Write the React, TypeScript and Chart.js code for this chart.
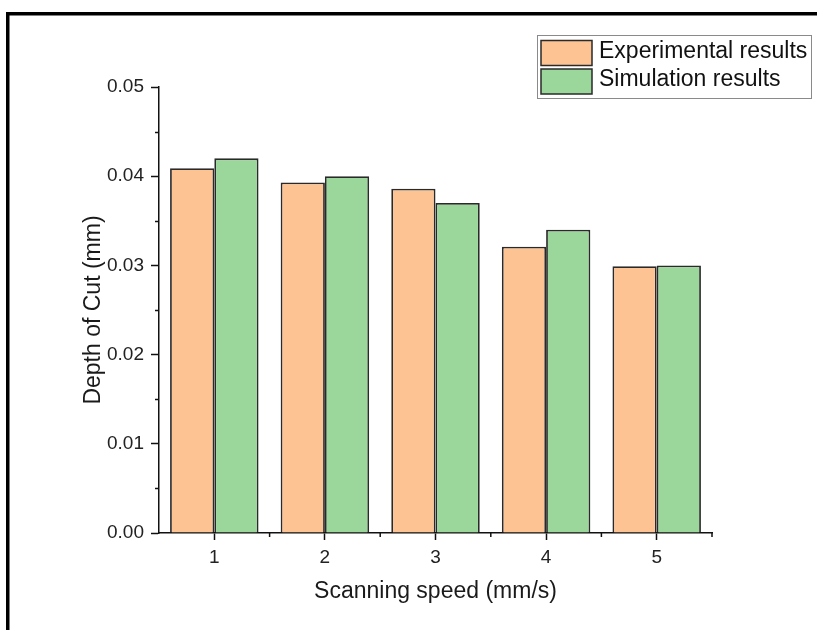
import React, { useEffect, useRef } from "react";
import { Chart, registerables } from "chart.js";

Chart.register(...registerables);

const categories = ["1", "2", "3", "4", "5"];
const experimental = [0.0409, 0.0393, 0.0386, 0.0321, 0.0299];
const simulation = [0.042, 0.04, 0.037, 0.034, 0.03];
const seriesLabels = ["Experimental results", "Simulation results"];
const yMinorTicks = [0.005, 0.015, 0.025, 0.035, 0.045];

const FONT = "'Liberation Sans', Arial, sans-serif";
const ORANGE = "#FDC393";
const GREEN = "#9BD69B";
const EDGE = "#2a2a2a";

const decorPlugin = {
  id: "decor",
  beforeDraw(chart: any) {
    const ctx = chart.ctx;
    ctx.save();
    ctx.fillStyle = "#ffffff";
    ctx.fillRect(0, 0, chart.width, chart.height);
    ctx.fillStyle = "#000000";
    ctx.fillRect(6, 12, chart.width - 6, 3.5);
    ctx.fillRect(6, 12, 3.5, chart.height - 12);
    ctx.restore();
  },
  afterDraw(chart: any) {
    const ctx = chart.ctx;
    const x = chart.scales.x;
    const y = chart.scales.y;
    const area = chart.chartArea;
    ctx.save();
    ctx.strokeStyle = "#111";
    ctx.lineWidth = 1.5;
    // y minor ticks
    yMinorTicks.forEach((v) => {
      const py = Math.round(y.getPixelForValue(v)) + 0.5;
      ctx.beginPath();
      ctx.moveTo(area.left, py);
      ctx.lineTo(area.left - 4, py);
      ctx.stroke();
    });
    // x minor ticks at category boundaries
    const n = categories.length;
    for (let i = 0; i < n; i++) {
      const p0 = x.getPixelForValue(i);
      const px = i < n - 1 ? (p0 + x.getPixelForValue(i + 1)) / 2 : area.right;
      ctx.beginPath();
      ctx.moveTo(px, area.bottom);
      ctx.lineTo(px, area.bottom + 4);
      ctx.stroke();
    }
    // legend
    const ds = chart.data.datasets;
    const bx = 537.5, by = 35.5, bw = 274, bh = 63;
    ctx.strokeStyle = "#8a8a8a";
    ctx.lineWidth = 1;
    ctx.strokeRect(bx, by, bw, bh);
    const rows = [
      { top: 40.5, h: 25, cy: 52 },
      { top: 69, h: 25, cy: 80 },
    ];
    ctx.font = "23px " + FONT;
    ctx.textBaseline = "middle";
    ctx.textAlign = "left";
    ds.forEach((d: any, i: number) => {
      const r = rows[i];
      ctx.fillStyle = d.backgroundColor;
      ctx.fillRect(541, r.top, 51, r.h);
      ctx.strokeStyle = EDGE;
      ctx.lineWidth = 1.5;
      ctx.strokeRect(541, r.top, 51, r.h);
      ctx.fillStyle = "#111";
      ctx.fillText(d.label, 599, r.cy);
    });
    ctx.restore();
  },
};

export default function App() {
  const ref = useRef<HTMLCanvasElement | null>(null);
  useEffect(() => {
    if (!ref.current) return;
    const chart = new Chart(ref.current, {
      type: "bar",
      data: {
        labels: categories,
        datasets: [
          {
            label: seriesLabels[0],
            data: experimental,
            backgroundColor: ORANGE,
            borderColor: EDGE,
            borderWidth: 1.8,
          },
          {
            label: seriesLabels[1],
            data: simulation,
            backgroundColor: GREEN,
            borderColor: EDGE,
            borderWidth: 1.8,
          },
        ],
      },
      options: {
        animation: false,
        responsive: false,
        maintainAspectRatio: false,
        devicePixelRatio: 1,
        layout: { padding: { left: 0, top: 87, right: 105, bottom: 0 } },
        datasets: { bar: { categoryPercentage: 0.8, barPercentage: 1.0 } },
        plugins: { legend: { display: false }, tooltip: { enabled: false } },
        scales: {
          x: {
            offset: true,
            afterFit: (s: any) => {
              s.height = 97;
            },
            border: { display: true, color: "#111", width: 1.5 },
            grid: {
              offset: false,
              drawOnChartArea: false,
              drawTicks: true,
              tickLength: 7,
              tickColor: "#111",
              tickWidth: 1.5,
            },
            ticks: {
              color: "#222",
              font: { family: FONT, size: 19 },
              padding: 6,
              maxRotation: 0,
            },
            title: {
              display: true,
              text: "Scanning speed (mm/s)",
              color: "#1a1a1a",
              font: { family: FONT, size: 23 },
              padding: { top: 0, bottom: 25 },
            },
          },
          y: {
            min: 0,
            max: 0.05,
            afterFit: (s: any) => {
              s.width = 159;
            },
            border: { display: true, color: "#111", width: 1.5 },
            grid: {
              drawOnChartArea: false,
              drawTicks: true,
              tickLength: 8,
              tickColor: "#111",
              tickWidth: 1.5,
            },
            ticks: {
              stepSize: 0.01,
              color: "#222",
              font: { family: FONT, size: 19 },
              padding: 7,
              callback: (v: any) => Number(v).toFixed(2),
            },
            title: {
              display: true,
              text: "Depth of Cut (mm)",
              color: "#1a1a1a",
              font: { family: FONT, size: 23 },
              padding: { top: 80, bottom: 0 },
            },
          },
        },
      },
      plugins: [decorPlugin],
    });
    return () => chart.destroy();
  }, []);
  return (
    <div style={{ position: "fixed", left: 0, top: 0, width: 817, height: 630, background: "#fff" }}>
      <canvas ref={ref} width={817} height={630} style={{ display: "block", width: 817, height: 630 }} />
    </div>
  );
}
